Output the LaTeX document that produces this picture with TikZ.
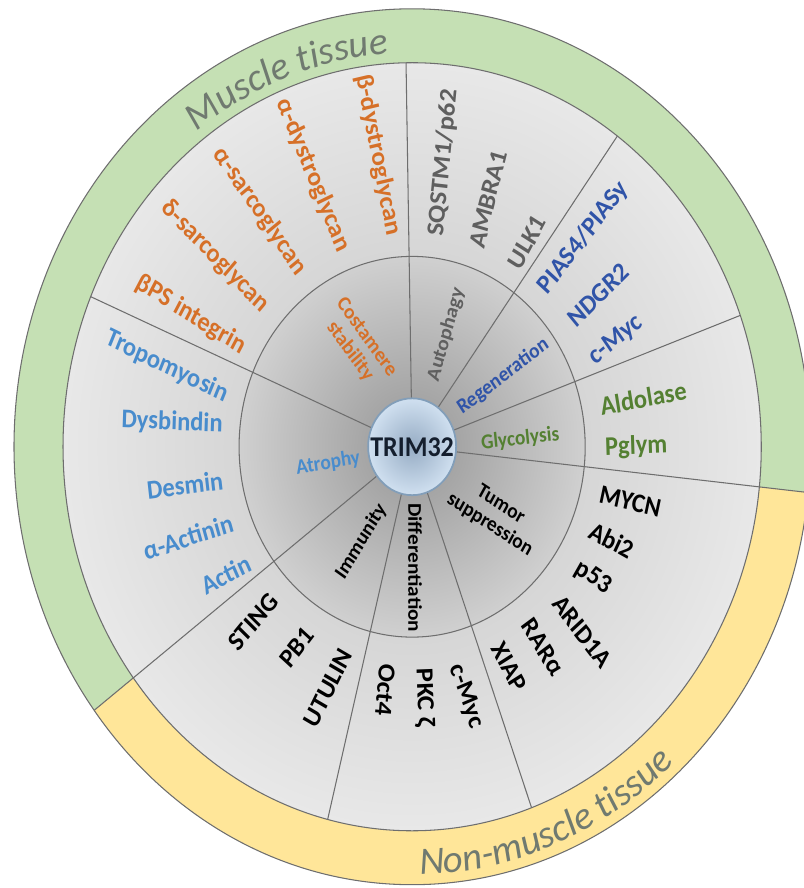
\documentclass[tikz,border=0pt]{standalone}
\usepackage{fontspec}
\setmainfont{Carlito}
\usepackage{tikz}
\usetikzlibrary{decorations.text}

\definecolor{ringgreen}{RGB}{197,224,180}
\definecolor{ringyellow}{RGB}{255,230,153}
\definecolor{ringtxt}{RGB}{112,122,112}
\definecolor{costc}{RGB}{214,112,40}
\definecolor{autoc}{RGB}{95,95,95}
\definecolor{regenc}{RGB}{48,84,168}
\definecolor{glycc}{RGB}{84,128,50}
\definecolor{atroc}{RGB}{72,140,205}
\definecolor{linec}{RGB}{110,110,110}
\definecolor{diskin}{RGB}{196,196,196}
\definecolor{diskout}{RGB}{232,232,232}
\definecolor{innerin}{RGB}{150,150,150}
\definecolor{innerout}{RGB}{208,208,208}
\definecolor{trimfill}{RGB}{208,224,240}
\definecolor{trimcore}{RGB}{150,172,196}
\definecolor{trimline}{RGB}{130,158,185}
\definecolor{trimtxt}{RGB}{20,30,45}

\newcommand{\ringfont}{\itshape\fontsize{22}{22}\selectfont}

\begin{document}
\begin{tikzpicture}[x=0.2mm, y=0.2mm, yscale=1.1,
    every node/.append style={transform shape},
    item/.style={font=\bfseries\fontsize{13.9}{15}\selectfont, inner sep=0pt},
    cat/.style={font=\bfseries\fontsize{11}{12}\selectfont, align=center, inner sep=0pt},
    divider/.style={draw=linec, line width=0.6pt}]
    \useasboundingbox (-412,-401) rectangle (391,406);

    \fill[ringgreen] (0,0) circle[radius=398];
    \fill[ringyellow] (0,0) -- (217:398) arc[start angle=217, end angle=354, radius=398] -- cycle;
    \draw[divider] (0,0) circle[radius=398];
    \draw[divider] (217:349) -- (217:398) (354:349) -- (354:398);

    \shade[inner color=diskin, outer color=diskout] (0,0) circle[radius=349];
    \draw[divider] (0,0) circle[radius=349];
    \shade[inner color=innerin, outer color=innerout] (0,0) circle[radius=173];
    \draw[divider] (0,0) circle[radius=173];

    \draw[divider] (91:44) -- (91:349) (54:44) -- (54:349) (20:44) -- (20:349)
        (-6:44) -- (-6:349) (-70:44) -- (-70:349) (-104:44) -- (-104:349)
        (217:44) -- (217:349) (157:44) -- (157:349);

    \node[circle, shade, inner color=trimcore, outer color=trimfill, draw=trimline,
        line width=1pt, minimum size=17.6mm, inner sep=0pt, text=trimtxt,
        font=\bfseries\fontsize{14.8}{16}\selectfont] (trim) at (0,0) {TRIM32};

    \path[decorate, decoration={text along path, text align=center, text color=ringtxt,
        text={|\ringfont|Muscle tissue}}] (140:358) arc[start angle=140, end angle=80, radius=358];
    \path[decorate, decoration={text along path, text align=center, text color=ringtxt,
        text={|\ringfont|Non-muscle tissue}}] (261.5:389) arc[start angle=261.5, end angle=321.5, radius=389];

    \node[cat, text=costc, rotate=-52] (coststab) at (-54,93) {Costamere\\stability};
    \node[cat, text=autoc, rotate=73] (autoph) at (34,102) {Autophagy};
    \node[cat, text=regenc, rotate=35] (regen) at (91,64) {Regeneration};
    \node[cat, text=glycc, rotate=6] (glyc) at (108,7) {Glycolysis};
    \node[cat, rotate=-31] (tumor) at (83,-62) {Tumor\\suppression};
    \node[cat, rotate=-90] (diff) at (3,-110) {Differentiation};
    \node[cat, rotate=57] (immun) at (-51,-86) {Immunity};
    \node[cat, text=atroc, rotate=9] (atroph) at (-84,-15) {Atrophy};

    \node[item, text=costc, rotate=-78] (bdg) at (-34,265) {β-dystroglycan};
    \node[item, text=costc, rotate=-66] (adg) at (-99,247) {α-dystroglycan};
    \node[item, text=costc, rotate=-53] (asg) at (-152,214) {α-sarcoglycan};
    \node[item, text=costc, rotate=-43] (dsg) at (-197,173) {δ-sarcoglycan};
    \node[item, text=costc, rotate=-30] (bps) at (-221,120) {βPS integrin};

    \node[item, text=autoc, rotate=84] (sqstm) at (31,258) {SQSTM1/p62};
    \node[item, text=autoc, rotate=75] (ambra) at (76,225) {AMBRA1};
    \node[item, text=autoc, rotate=60] (ulk) at (115,186) {ULK1};

    \node[item, text=regenc, rotate=50] (pias) at (171,190) {PIAS4/PIASy};
    \node[item, text=regenc, rotate=42] (ndgr) at (186,138) {NDGR2};
    \node[item, text=regenc, rotate=37] (mycr) at (204,97) {c-Myc};

    \node[item, text=glycc, rotate=10] (aldo) at (231,44) {Aldolase};
    \node[item, text=glycc, rotate=2] (pgly) at (224,0) {Pglym};

    \node[item, rotate=-13] (mycn) at (218,-50) {MYCN};
    \node[item, rotate=-27] (abi) at (200,-85) {Abi2};
    \node[item, rotate=-32] (p53) at (181,-119) {p53};
    \node[item, rotate=-50] (arid) at (170,-168) {ARID1A};
    \node[item, rotate=-56] (rara) at (131,-182) {RARα};
    \node[item, rotate=-60] (xiap) at (97,-200) {XIAP};

    \node[item, rotate=-69] (mycd) at (54,-227) {c-Myc};
    \node[item, rotate=-88] (pkc) at (12,-228) {PKC ζ};
    \node[item, rotate=-95] (oct) at (-27,-221) {Oct4};

    \node[item, rotate=48] (sting) at (-159,-159) {STING};
    \node[item, rotate=50] (pb) at (-115,-182) {PB1};
    \node[item, rotate=62] (utulin) at (-84,-219) {UTULIN};

    \node[item, text=atroc, rotate=-24] (tropo) at (-245,73) {Tropomyosin};
    \node[item, text=atroc, rotate=-2] (dysb) at (-240,22) {Dysbindin};
    \node[item, text=atroc, rotate=7] (desm) at (-227,-35) {Desmin};
    \node[item, text=atroc, rotate=17] (actn) at (-224,-82) {α-Actinin};
    \node[item, text=atroc, rotate=26] (actin) at (-186,-116) {Actin};
\end{tikzpicture}
\end{document}
